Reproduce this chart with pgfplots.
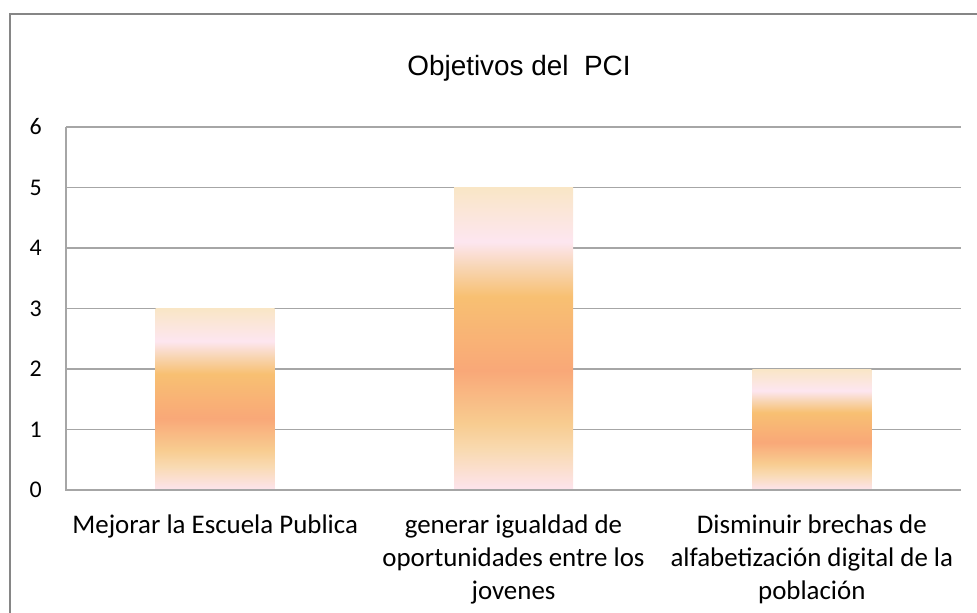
\documentclass[border=0pt]{standalone}
\usepackage{pgfplots}
\pgfplotsset{compat=1.18}
\usepackage{fontspec}
\setmainfont{Carlito}
\newfontfamily\arialf{Liberation Sans}
\definecolor{s0}{HTML}{FDE4EE}
\definecolor{s1}{HTML}{F9DAB2}
\definecolor{s2}{HTML}{F8CC90}
\definecolor{s3}{HTML}{F9A878}
\definecolor{s4}{HTML}{F8C072}
\definecolor{s5}{HTML}{F8D6B6}
\definecolor{s6}{HTML}{FDE6F0}
\definecolor{s7}{HTML}{F9E6C6}
\definecolor{gridc}{HTML}{A6A6A6}
\definecolor{framec}{HTML}{868686}
\pgfdeclareverticalshading{sunset}{100bp}{color(0bp)=(s0); color(25bp)=(s0); color(31.5bp)=(s1); color(36bp)=(s2); color(44.75bp)=(s3); color(57bp)=(s4); color(62bp)=(s5); color(66bp)=(s6); color(75bp)=(s7); color(100bp)=(s7)}
\begin{document}
\begin{tikzpicture}
\useasboundingbox (0,0) rectangle (977bp,613bp);
\draw[framec, line width=2.5bp] (10bp,-5bp) -- (10bp,599bp) -- (985bp,599bp);
\node[font=\arialf\fontsize{28}{32}\selectfont] at (519bp,545bp) {Objetivos del\ \ PCI};
\begin{axis}[
  at={(66bp,123bp)}, anchor=south west,
  scale only axis, width=895bp, height=363bp,
  xmin=-0.5, xmax=2.5, ymin=0, ymax=6,
  ytick={0,1,2,3,4,5,6},
  xtick={0,1,2},
  xticklabels={{Mejorar la Escuela Publica}, {generar igualdad de\\oportunidades entre los\\jovenes}, {Disminuir brechas de\\alfabetización digital de la\\población}},
  x tick label style={align=center, inner sep=0pt, anchor=north, font=\fontsize{27}{33}\selectfont, yshift=-25bp},
  yticklabel={\fontsize{24}{26}\selectfont\pgfmathprintnumber{\tick}},
  y tick label style={anchor=east, inner sep=0pt, xshift=-24bp},
  /pgf/number format/assume math mode=true,
  major tick length=0pt,
  ymajorgrids, grid style={gridc, line width=1.3bp},
  axis line style={draw=none},
  ytick style={draw=none}, xtick style={draw=none},
  clip=false,
]
\addplot[ybar, bar width=119bp, bar shift=0pt, draw=none, shade, shading=sunset] coordinates {(0,3)};
\addplot[ybar, bar width=119bp, bar shift=0pt, draw=none, shade, shading=sunset] coordinates {(1,5)};
\addplot[ybar, bar width=119bp, bar shift=0pt, draw=none, shade, shading=sunset] coordinates {(2,2)};
\draw[gridc, line width=1.3bp] (axis cs:-0.5,6) -- (axis cs:-0.5,0) -- (axis cs:2.5,0);
\end{axis}
\end{tikzpicture}
\end{document}
